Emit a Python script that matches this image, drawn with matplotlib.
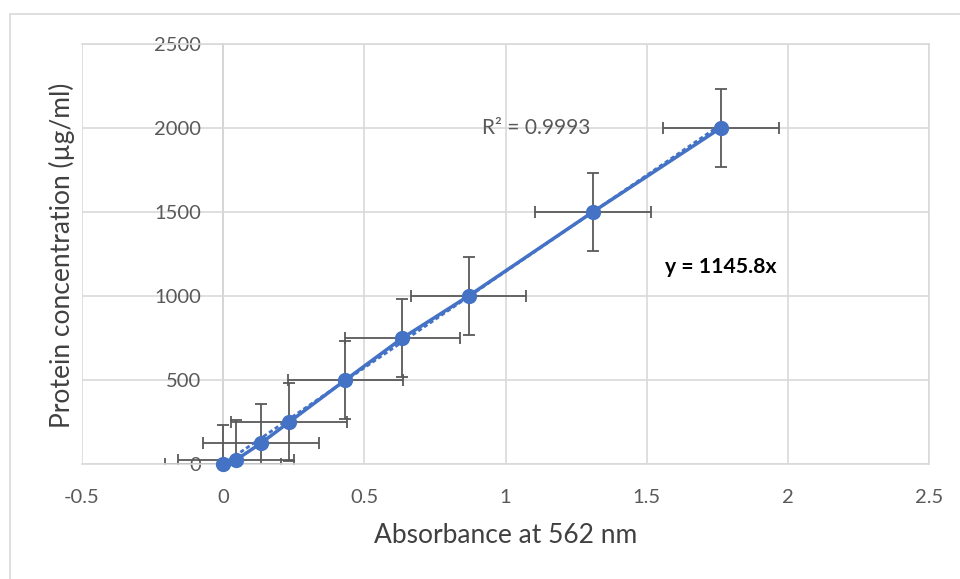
import matplotlib
matplotlib.use("Agg")
import matplotlib.pyplot as plt
from matplotlib.patches import Rectangle

# Data
absorbance = [0.0, 0.046, 0.135, 0.234, 0.433, 0.635, 0.869, 1.309, 1.762]
concentration = [0, 25, 125, 250, 500, 750, 1000, 1500, 2000]
x_error = [0.205] * 9
y_error = [234] * 9
slope = 1145.8
r_squared_label = "R² = 0.9993"
equation_label = "y = 1145.8x"
x_ticks = [-0.5, 0, 0.5, 1, 1.5, 2, 2.5]
x_tick_labels = ["-0.5", "0", "0.5", "1", "1.5", "2", "2.5"]
y_ticks = [0, 500, 1000, 1500, 2000, 2500]
y_tick_labels = ["0", "500", "1000", "1500", "2000", "2500"]

plt.rcParams['font.family'] = ['Lato', 'DejaVu Sans']

W, H = 960, 579
fig = plt.figure(figsize=(W / 100, H / 100), dpi=100)
fig.patch.set_facecolor("white")

# outer chart border
fig.patches.append(Rectangle((10 / W, -0.01), 1.0, 1 - 14 / H + 0.01,
                             transform=fig.transFigure, fill=False,
                             edgecolor="#D9D9D9", linewidth=1.2))

ax = fig.add_axes([82 / W, 1 - 464 / H, (929 - 82) / W, (464 - 44) / H])
ax.set_xlim(-0.5, 2.5)
ax.set_ylim(0, 2500)

grey_text = "#595959"
blue = "#4472C4"

ax.set_xticks(x_ticks)
ax.set_xticklabels(x_tick_labels)
ax.set_yticks(y_ticks)
ax.set_yticklabels(y_tick_labels)
ax.tick_params(axis="both", length=0, labelsize=14.5, colors=grey_text)
ax.tick_params(axis="x", pad=18)
ax.tick_params(axis="y", pad=16)

ax.grid(True, color="#D9D9D9", linewidth=1.2)
ax.set_axisbelow(True)
for s in ["top", "right", "bottom"]:
    ax.spines[s].set_color("#D9D9D9")
    ax.spines[s].set_linewidth(1.2)
ax.spines["left"].set_position(("data", 0))
ax.spines["left"].set_color("#BFBFBF")
ax.spines["left"].set_linewidth(1.2)
ax.spines["left"].set_zorder(0.5)

# error bars
ax.errorbar(absorbance, concentration, xerr=x_error, yerr=y_error,
            fmt="none", ecolor="#595959", elinewidth=1.3, capsize=4,
            capthick=1.3, zorder=2)

# trendline through origin (mostly hidden under the series line)
tx = [0, max(absorbance)]
ty = [slope * v for v in tx]
ax.plot(tx, ty, color=blue, linewidth=2.0, linestyle=(0, (1.5, 1)),
        zorder=2.5)

# series line with markers
ax.plot(absorbance, concentration, color=blue, linewidth=2.5,
        marker="o", markersize=10, zorder=3, clip_on=False)

# trendline labels
ax.text(0.915, 2000, r_squared_label, fontsize=15, color=grey_text,
        ha="left", va="center")
ax.text(1.565, 1170, equation_label, fontsize=15.2, color="black",
        fontweight="bold", ha="left", va="center")

ax.set_xlabel("Absorbance at 562 nm", fontsize=19, color="#404040",
              labelpad=12)
fig.text(62 / W, 1 - 255 / H, "Protein concentration (µg/ml)", fontsize=19,
         color="#404040", rotation=90, ha="center", va="center")

fig.savefig("out.png", dpi=100, facecolor="white")
